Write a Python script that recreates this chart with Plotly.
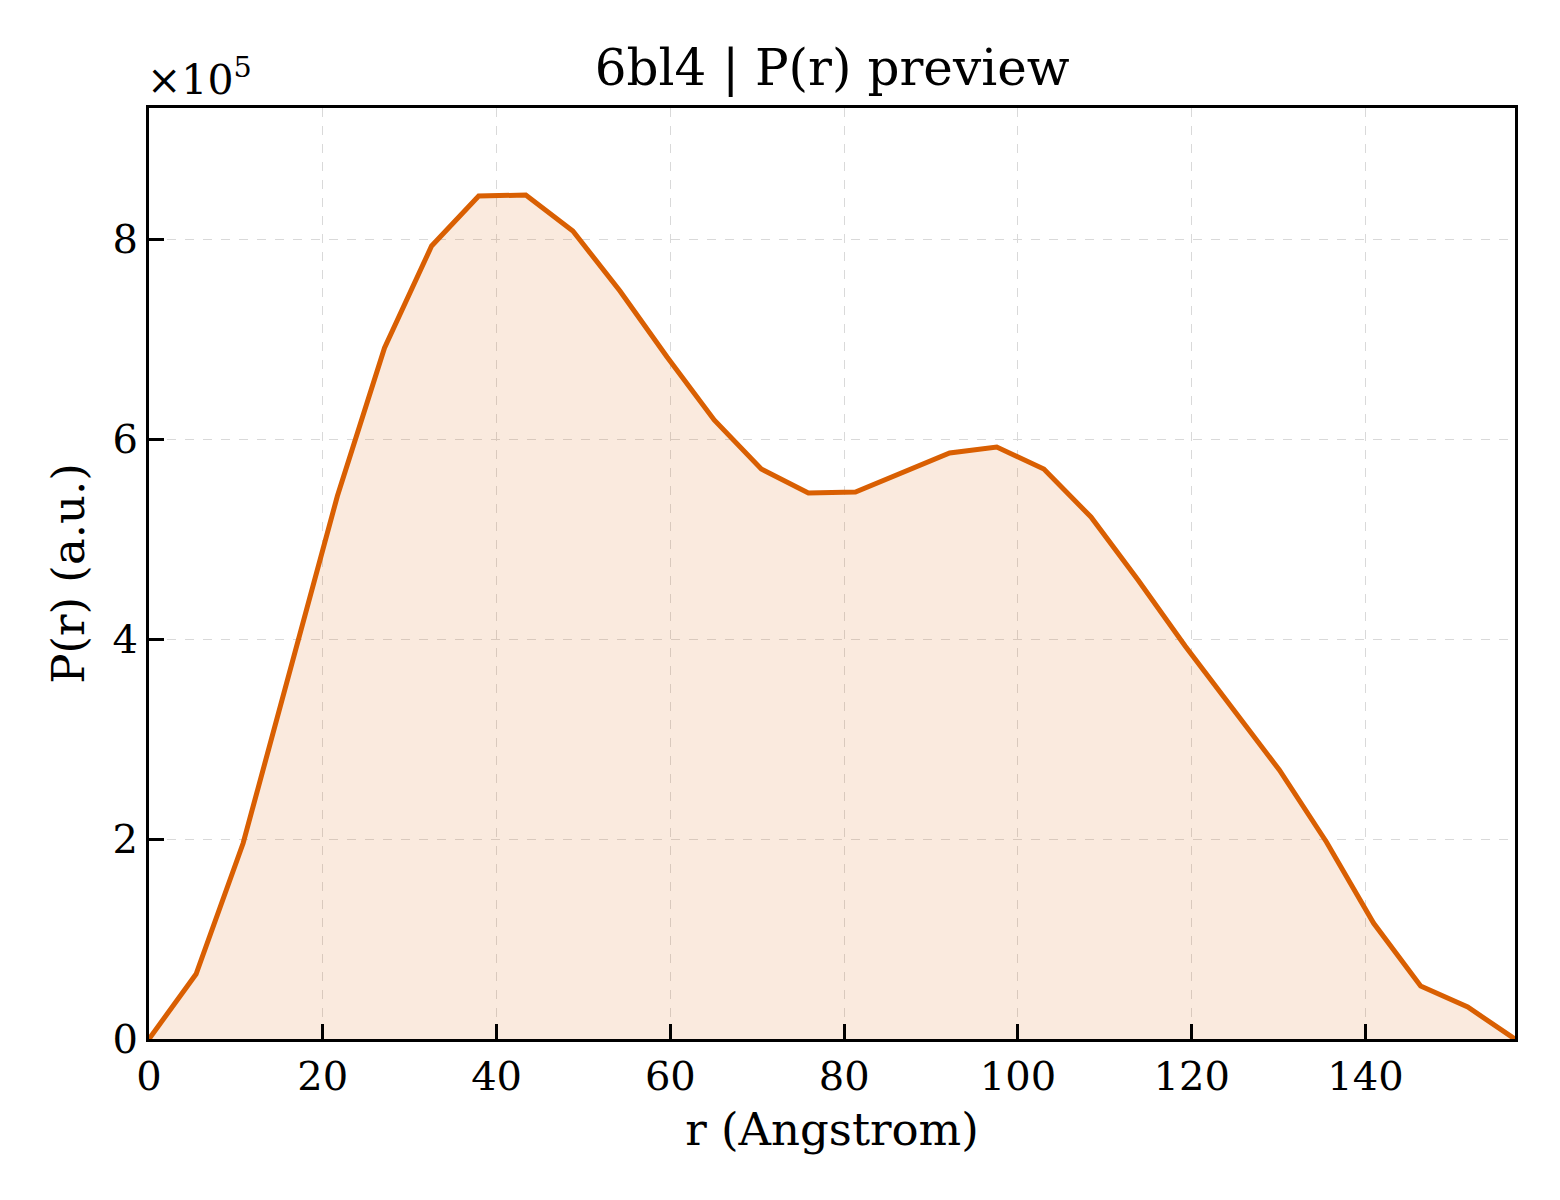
import plotly.graph_objects as go

# r in Angstrom, P(r) in units of 1e5 (a.u.)
r_values = [0.0, 5.42, 10.84, 16.26, 21.68, 27.1, 32.52, 37.94, 43.36, 48.78,
            54.2, 59.62, 65.04, 70.46, 75.88, 81.3, 86.72, 92.14, 97.56, 102.98,
            108.4, 113.82, 119.24, 124.66, 130.08, 135.5, 140.92, 146.34, 151.76, 157.18]
pr_values = [0.0, 0.65, 1.96, 3.68, 5.43, 6.91, 7.93, 8.43, 8.44, 8.08,
             7.48, 6.82, 6.19, 5.70, 5.46, 5.47, 5.66, 5.86, 5.92, 5.70,
             5.22, 4.59, 3.93, 3.31, 2.69, 1.97, 1.16, 0.53, 0.32, 0.0]

title_text = "6bl4 | P(r) preview"
x_label = "r (Angstrom)"
y_label = "P(r) (a.u.)"
x_ticks = [0, 20, 40, 60, 80, 100, 120, 140]
y_ticks = [0, 2, 4, 6, 8]

line_color = "#d95f02"
serif = "DejaVu Serif"

fig = go.Figure()
fig.add_trace(go.Scatter(
    x=r_values, y=pr_values, mode="lines",
    line=dict(color=line_color, width=5),
    fill="tozeroy", fillcolor="rgba(217,95,2,0.13)",
    showlegend=False,
))

axis_common = dict(
    showline=True, linecolor="black", linewidth=3.3, mirror=True,
    ticks="inside", ticklen=15, tickwidth=2.7, tickcolor="black",
    showgrid=True, gridcolor="#d9d9d9", gridwidth=1.3, griddash="dash",
    zeroline=False,
    tickfont=dict(family=serif, size=40, color="black"),
)

fig.update_xaxes(range=[0, 157.2], tickvals=x_ticks,
                 title=dict(text=x_label, font=dict(family=serif, size=45, color="black"), standoff=16),
                 **axis_common)
fig.update_yaxes(range=[0, 9.31], tickvals=y_ticks,
                 title=dict(text=y_label, font=dict(family=serif, size=45, color="black"), standoff=14),
                 **axis_common)

fig.add_annotation(text="×10<sup>5</sup>", xref="paper", yref="paper", x=0.0, y=1.0,
                   xanchor="left", yanchor="bottom", showarrow=False, xshift=-4, yshift=2,
                   font=dict(family=serif, size=41, color="black"))

# page body has an 8px margin, so the figure is a little smaller and shifted
fig.update_layout(
    width=1552, height=1192,
    margin=dict(l=141, r=45, t=100, b=161),
    paper_bgcolor="white", plot_bgcolor="white",
    title=dict(text=title_text, x=0.531, xanchor="center", y=0.95, yanchor="middle",
               font=dict(family=serif, size=50, color="black")),
)

fig.write_html("out.html")
